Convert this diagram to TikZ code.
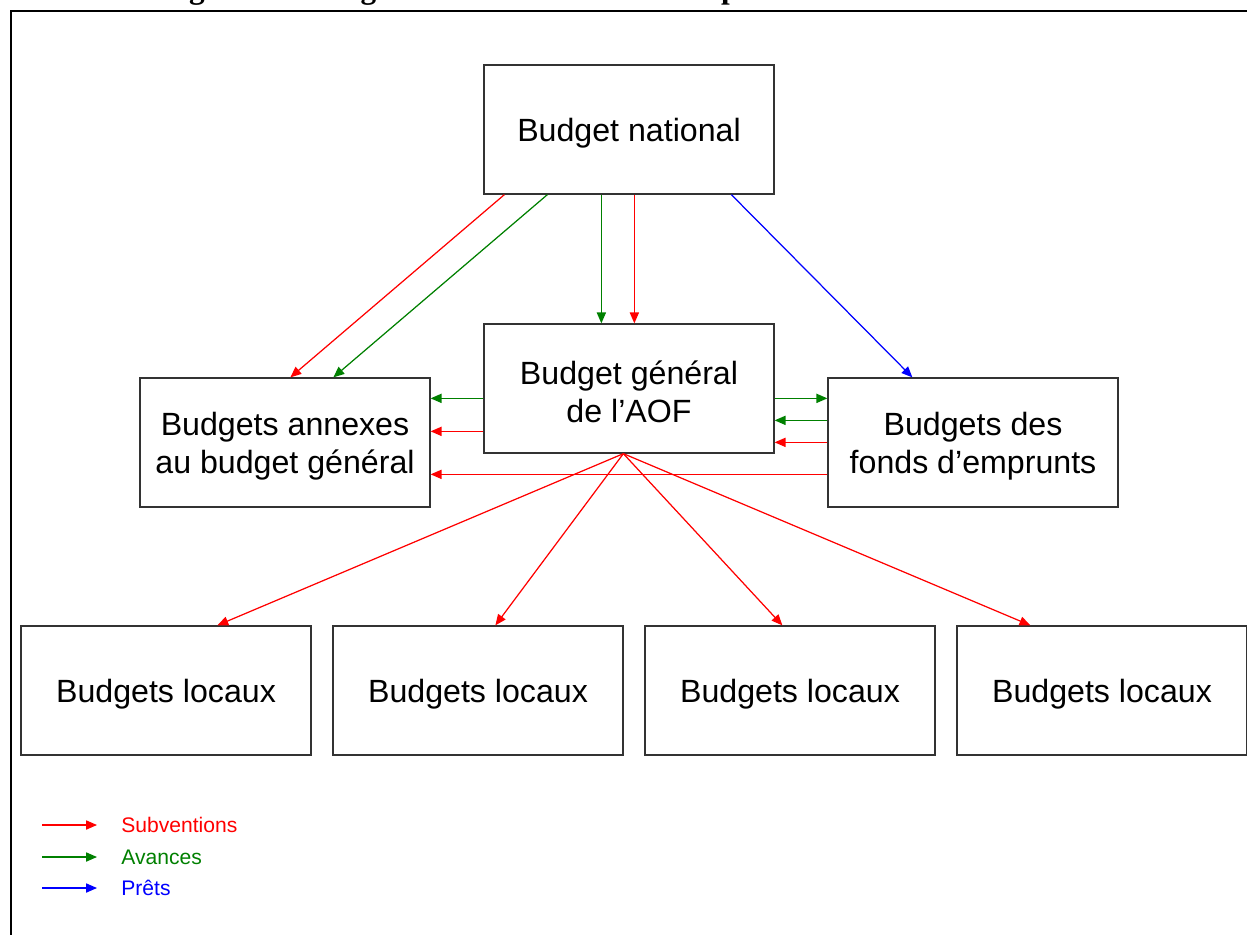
\documentclass[tikz,border=0pt]{standalone}
\usepackage{fontspec}
\setmainfont{Liberation Sans}
\newfontfamily\titlefont{Liberation Serif}
\usetikzlibrary{arrows.meta,calc}
\definecolor{subv}{RGB}{255,0,0}
\definecolor{avan}{RGB}{0,128,0}
\definecolor{pret}{RGB}{0,0,255}
\begin{document}
\begin{tikzpicture}[x=0.02cm,y=-0.02cm,
  budget/.style={draw=black!80,line width=0.75pt,minimum width=5.8cm,minimum height=2.58cm,
    inner sep=0pt},
  lbl/.style={align=center,inner sep=0pt,yshift=-2pt,font=\fontsize{18.3}{21.6}\selectfont},
  flow/.style={line width=0.7pt,-{Triangle[length=6.2pt,width=5.2pt]}},
  rd/.style={flow,draw=subv,fill=subv},
  gr/.style={flow,draw=avan,fill=avan},
  bl/.style={flow,draw=pret,fill=pret},
  legtext/.style={anchor=west,font=\fontsize{12}{14}\selectfont,inner sep=0pt}]
\useasboundingbox (0,0) rectangle (1247,934);
\begin{scope}
\clip (0,0) rectangle (1247,934);
\node[anchor=base west,inner sep=0pt,font=\titlefont\fontsize{17.8}{20}\selectfont\bfseries] (title) at (161,-1.5)
  {Figure 1 : L'organisation du financement public de la colonisation};
\draw[line width=1.1pt] (1260,11) -- (11,11) -- (11,950);
\node[budget,label={[lbl]center:Budget national}] (nat) at (629,129.5) {};
\node[budget,label={[lbl]center:{Budget général\\de l’AOF}}] (gen) at (629,388.5) {};
\node[budget,label={[lbl]center:{Budgets annexes\\au budget général}}] (ann) at (285,442.5) {};
\node[budget,label={[lbl]center:{Budgets des\\fonds d’emprunts}}] (fonds) at (973,442.5) {};
\node[budget,label={[lbl]center:Budgets locaux}] (loc1) at (166,690.5) {};
\node[budget,label={[lbl]center:Budgets locaux}] (loc2) at (478,690.5) {};
\node[budget,label={[lbl]center:Budgets locaux}] (loc3) at (790,690.5) {};
\node[budget,label={[lbl]center:Budgets locaux}] (loc4) at (1102,690.5) {};
% from national
\draw[rd] ($(nat.south west)+(21,0)$) -- ($(ann.north west)+(151,0)$);
\draw[gr] ($(nat.south west)+(64,0)$) -- ($(ann.north west)+(194,0)$);
\draw[gr] ($(nat.south west)+(118,0)$) -- ($(gen.north west)+(118,0)$);
\draw[rd] ($(nat.south west)+(151,0)$) -- ($(gen.north west)+(151,0)$);
\draw[bl] ($(nat.south west)+(248,0)$) -- ($(fonds.north west)+(85,0)$);
% general <-> annexes / fonds
\draw[gr] ($(gen.north west)+(0,75)$) -- ($(ann.north east)+(0,21)$);
\draw[rd] ($(gen.north west)+(0,108)$) -- ($(ann.north east)+(0,54)$);
\draw[gr] ($(gen.north east)+(0,75)$) -- ($(fonds.north west)+(0,21)$);
\draw[gr] ($(fonds.north west)+(0,43)$) -- ($(gen.north east)+(0,97)$);
\draw[rd] ($(fonds.north west)+(0,65)$) -- ($(gen.north east)+(0,119)$);
\draw[rd] ($(fonds.north west)+(0,97)$) -- ($(ann.north east)+(0,97)$);
% general -> locaux
\coordinate (gb) at ($(gen.south west)+(140,0)$);
\draw[rd] (gb) -- ($(loc1.north west)+(197,0)$);
\draw[rd] (gb) -- ($(loc2.north west)+(163,0)$);
\draw[rd] (gb) -- ($(loc3.north west)+(138,0)$);
\draw[rd] (gb) -- ($(loc4.north west)+(74,0)$);
% legend
\coordinate (l1a) at (42,825); \coordinate (l1b) at (97,825);
\coordinate (l2a) at (42,857); \coordinate (l2b) at (97,857);
\coordinate (l3a) at (42,888); \coordinate (l3b) at (97,888);
\draw[rd] (l1a) -- (l1b);
\draw[gr] (l2a) -- (l2b);
\draw[bl] (l3a) -- (l3b);
\node[legtext,text=subv] (t1) at (121,825) {Subventions};
\node[legtext,text=avan] (t2) at (121,857) {Avances};
\node[legtext,text=pret] (t3) at (121,888) {Prêts};
\end{scope}
\end{tikzpicture}
\end{document}
